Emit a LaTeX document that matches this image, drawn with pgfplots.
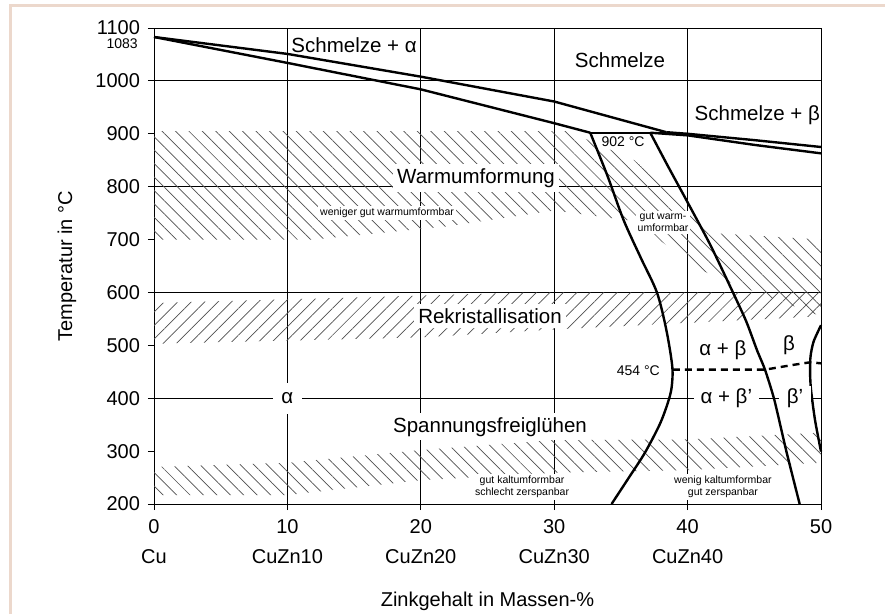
\documentclass[border=0pt]{standalone}
\usepackage{fontspec}
\setmainfont{Liberation Sans}
\usepackage{pgfplots}
\pgfplotsset{compat=1.18}
\usetikzlibrary{patterns.meta}
\definecolor{bordercol}{RGB}{236,216,204}
\definecolor{hatchcol}{RGB}{80,80,80}
\newcommand{\fbig}{\fontsize{20.5}{24}\selectfont}
\newcommand{\fmid}{\fontsize{14}{16}\selectfont}
\newcommand{\fsmall}{\fontsize{10.5}{12}\selectfont}
\newcommand{\yt}[1]{{\fontsize{20}{24}\selectfont #1}}
\begin{document}
\begin{tikzpicture}
\useasboundingbox (0,0) rectangle (885pt,614pt);
\fill[white] (0,0) rectangle (885pt,614pt);
\draw[bordercol, line width=2.8pt] (10.3pt,0pt) -- (10.3pt,608.3pt) -- (885pt,608.3pt);
\begin{axis}[
  at={(154pt,110pt)}, anchor=south west,
  scale only axis, width=667pt, height=476pt,
  xmin=0, xmax=50, ymin=200, ymax=1100,
  clip=false,
  axis line style={line width=0.9pt},
  tick pos=left, tick align=outside, major tick length=6pt,
  tick style={line width=0.9pt, black},
  xtick={0,10,20,30,40,50},
  xticklabels={{0\\Cu},{10\\CuZn10},{20\\CuZn20},{30\\CuZn30},{40\\CuZn40},{50}},
  x tick label style={font=\fontsize{20}{30}\selectfont, align=center, yshift=-6pt},
  ytick={300,500,700,900,1100},
  yticklabels={\yt{300},\yt{500},\yt{700},\yt{900},\yt{1100}},
  extra y ticks={200,400,600,800,1000},
  extra y tick labels={\yt{200},\yt{400},\yt{600},\yt{800},\yt{1000}},
  extra y tick style={grid=major},
  y tick label style={xshift=-4.5pt},
  xmajorgrids=true,
  grid style={black, line width=0.9pt},
  xlabel={Zinkgehalt in Massen-\%},
  xlabel style={font=\fontsize{20}{24}\selectfont, at={(axis description cs:0.5,-0.2143)}, anchor=base},
  ylabel={Temperatur in °C},
  ylabel style={font=\fontsize{20}{24}\selectfont, at={(axis description cs:-0.1304,0.5)}, anchor=center},
]
% hatched bands
\addplot[draw=none, pattern={Lines[angle=-45,distance=9.5pt,line width=0.7pt]}, pattern color=hatchcol]
  coordinates {(0,905) (31,905) (36,850) (40,760) (42,712) (50,700) (50,555) (42,630) (40.5,650) (36,735) (30,755) (22,725) (12,700) (0,700)} -- cycle;
\addplot[draw=none, pattern={Lines[angle=45,distance=9.5pt,line width=0.7pt]}, pattern color=hatchcol]
  coordinates {(0,580) (20,594) (28,600) (50,600) (50,555) (30,530) (20,515) (0,503)} -- cycle;
\addplot[draw=none, pattern={Lines[angle=-45,distance=9.5pt,line width=0.7pt]}, pattern color=hatchcol]
  coordinates {(0,270) (10,278) (20,302) (30,321) (40,322) (50,335) (50,278) (40,264) (30,259) (20,245) (10,217) (0,217)} -- cycle;
% phase boundaries
\addplot[black, line width=2.4pt, line join=round] coordinates {(0,1083) (10,1051) (20,1008) (30,961) (38.4,903)};
\addplot[black, line width=2.4pt, line join=round] coordinates {(0,1083) (10,1034) (20,984) (30,920) (32.7,902)};
\addplot[black, line width=2.4pt, line join=round] coordinates {(32.7,902) (38.4,902)};
\addplot[black, line width=2.4pt, line join=round] coordinates {(38.4,903) (40,900) (45,888) (50,875)};
\addplot[black, line width=2.4pt, line join=round] coordinates {(37.2,902) (40,897) (45,879) (50,863)};
\addplot[black, line width=2.4pt, smooth, tension=0.5] coordinates {(32.7,902) (34.0,820) (35.2,737) (36.5,665) (37.7,600) (38.4,530) (38.85,460) (38.8,420) (38.5,390) (37.9,350) (36.8,297) (35.6,250) (34.3,200)};
\addplot[black, line width=2.4pt, smooth, tension=0.4] coordinates {(37.2,902) (38.5,840) (39.9,775) (41.7,690) (43.4,600) (44.4,545) (45.2,491) (45.8,454) (46.5,397) (47.4,300) (48.4,200)};
\addplot[black, line width=2.4pt, dash pattern=on 7pt off 5pt] coordinates {(38.9,454) (45.8,454) (47.9,463) (49.2,468) (50,466)};
\addplot[black, line width=2.4pt, smooth, tension=0.6] coordinates {(50,538) (49.7,522) (49.42,505) (49.22,480) (49.18,455) (49.22,425) (49.35,395) (49.55,359) (49.8,325) (50,299)};
% labels
\node[font=\fbig] at (axis cs:15,1068) {Schmelze + α};
\node[font=\fbig] at (axis cs:34.93,1039.5) {Schmelze};
\node[font=\fbig, anchor=east, inner sep=0pt] at (axis cs:49.93,935) {Schmelze + β};
\node[font=\fmid] at (axis cs:35.16,886) {902 °C};
\node[font=\fmid, anchor=east, inner sep=0pt] at (axis cs:-1.2,1070) {1083};
\node[font=\fbig, fill=white, inner sep=4pt] at (axis cs:24.14,816.4) {Warmumformung};
\node[font=\fsmall, fill=white, inner sep=2pt] at (axis cs:17.47,750) {weniger gut warmumformbar};
\node[font=\fsmall, fill=white, inner sep=2pt, align=center] at (axis cs:38.16,733) {gut warm-\\umformbar};
\node[font=\fbig, fill=white, inner sep=4pt] at (axis cs:25.19,555.5) {Rekristallisation};
\node[font=\fbig, fill=white, inner xsep=8.5pt, inner ysep=10pt] at (axis cs:10,400) {α};
\node[font=\fbig, fill=white, inner sep=4pt] at (axis cs:25.19,346) {Spannungsfreiglühen};
\node[font=\fsmall, fill=white, inner sep=2pt, align=center] at (axis cs:27.59,232) {gut kaltumformbar\\schlecht zerspanbar};
\node[font=\fsmall, fill=white, inner sep=2pt, align=center] at (axis cs:42.65,232) {wenig kaltumformbar\\gut zerspanbar};
\node[font=\fbig] at (axis cs:42.65,491.2) {α + β};
\node[font=\fbig] at (axis cs:47.6,500) {β};
\node[font=\fbig, fill=white, inner xsep=7pt, inner ysep=3pt] at (axis cs:42.9,400) {α + β'};
\node[font=\fbig, fill=white, inner xsep=8pt, inner ysep=3pt] at (axis cs:48.05,400) {β'};
\node[font=\fmid, fill=white, inner sep=1pt, anchor=east] at (axis cs:38.0,453) {454 °C};
\end{axis}
\end{tikzpicture}
\end{document}
